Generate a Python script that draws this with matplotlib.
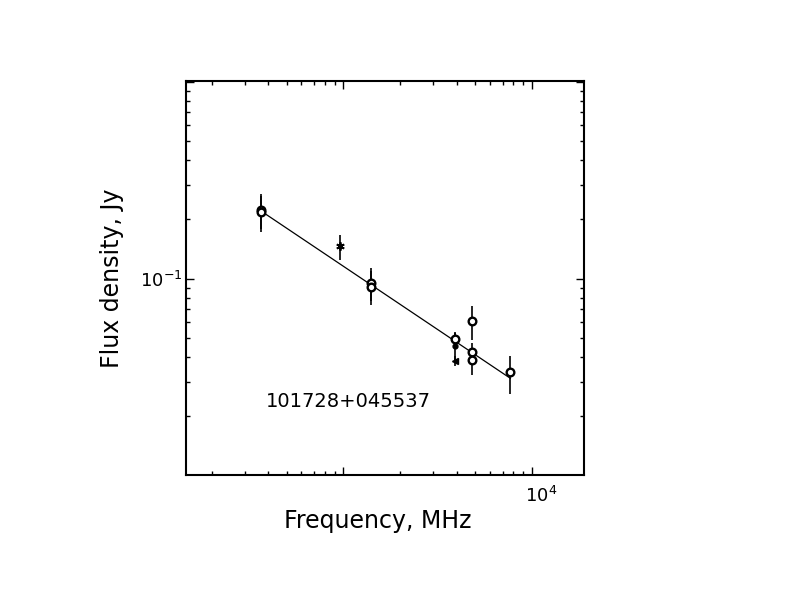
import numpy as np
import matplotlib
matplotlib.use("Agg")
import matplotlib.pyplot as plt
from matplotlib.ticker import LogLocator, FixedLocator, FuncFormatter, NullFormatter
from matplotlib.transforms import ScaledTranslation

plt.rcParams['font.family'] = ['DejaVu Sans']
plt.rcParams['mathtext.fontset'] = 'dejavusans'

# ---- data (frequency in MHz, flux density in Jy) ----
circ_freq = [365, 365, 1400, 1400, 3900, 4850, 4850, 4850, 7700]
circ_flux = [0.224, 0.218, 0.0948, 0.0911, 0.0494, 0.061, 0.0423, 0.0385, 0.0334]
circ_err = [0.045, 0.045, 0.018, 0.018, 0.004, 0.012, 0.005, 0.006, 0.0073]

star_freq = [960]
star_flux = [0.146]
star_err = [0.021]

dot_freq = [3900]
dot_flux = [0.0457]
dot_err = [0.007]

tri_freq = [3900]
tri_flux = [0.0382]
tri_err = [0.0022]

fit_freq = [365, 7700]
fit_flux = [0.221, 0.0312]

source_name = "101728+045537"
x_label = "Frequency, MHz"
y_label = "Flux density, Jy"

fig = plt.figure(figsize=(7.92, 6.12), dpi=100)
ax = fig.add_axes([0.2352, 0.2243, 0.5025, 0.6428])
ax.set_xscale('log')
ax.set_yscale('log')
ax.set_xlim(146.8, 19010)
ax.set_ylim(0.0101, 1.005)

# fit line
ax.plot(fit_freq, fit_flux, color='black', lw=0.9)

ekw = dict(ecolor='black', elinewidth=1.2, capsize=0, ls='none')
ax.errorbar(circ_freq, circ_flux, yerr=circ_err, marker='o', ms=5.5,
            mfc='white', mec='black', mew=1.7, **ekw)
ax.errorbar(star_freq, star_flux, yerr=star_err, marker=(6, 2, 0), ms=6,
            mec='black', mew=1.3, **ekw)
ax.errorbar(dot_freq, dot_flux, yerr=dot_err, marker='o', ms=3.5,
            mfc='black', mec='black', **ekw)
ax.errorbar(tri_freq, tri_flux, yerr=tri_err, marker='<', ms=5,
            mfc='black', mec='black', **ekw)

# ticks
ax.xaxis.set_major_locator(FixedLocator([1e3, 1e4]))
ax.xaxis.set_minor_locator(LogLocator(base=10, subs=np.arange(2, 10)))
ax.yaxis.set_major_locator(FixedLocator([0.01, 0.1, 1.0]))
ax.yaxis.set_minor_locator(LogLocator(base=10, subs=np.arange(2, 10)))

def xfmt(v, pos):
    return r'$10^{4}$' if abs(v - 1e4) < 1 else ''

def yfmt(v, pos):
    return r'$10^{-1}$' if abs(v - 0.1) < 1e-6 else ''

ax.xaxis.set_major_formatter(FuncFormatter(xfmt))
ax.yaxis.set_major_formatter(FuncFormatter(yfmt))
ax.xaxis.set_minor_formatter(NullFormatter())
ax.yaxis.set_minor_formatter(NullFormatter())

ax.tick_params(which='both', direction='in', top=True, right=True,
               width=1.0, colors='black', labelsize=13)
ax.tick_params(which='major', length=5.5)
ax.tick_params(which='minor', length=3)
ax.tick_params(axis='x', which='major', pad=8)
ax.tick_params(axis='y', which='major', pad=3)
for s in ax.spines.values():
    s.set_linewidth(1.5)

for lab in ax.get_xticklabels():
    lab.set_transform(lab.get_transform() + ScaledTranslation(9 / 100, 0, fig.dpi_scale_trans))

ax.set_xlabel(x_label, fontsize=17, color='black')
ax.xaxis.set_label_coords(0.480, -0.118)
ax.xaxis.label.set_va('center')
ax.set_ylabel(y_label, fontsize=17, color='black')
ax.yaxis.set_label_coords(-0.187, 0.5)
ax.yaxis.label.set_va('center')

ax.text(0.407, 0.187, source_name, transform=ax.transAxes, ha='center',
        va='center', fontsize=14, color='black')

fig.savefig('out.png', dpi=100, facecolor='white')
